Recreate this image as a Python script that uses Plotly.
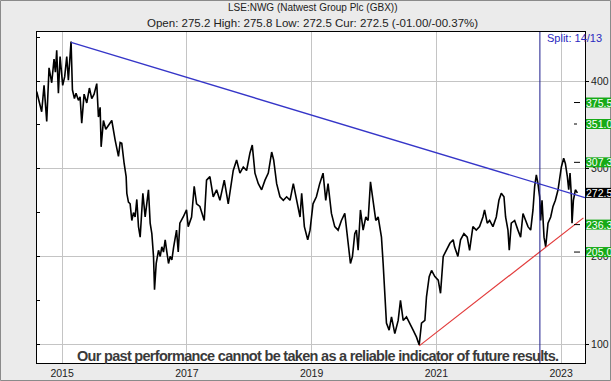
import plotly.graph_objects as go

# ---------------- data ----------------
years = [
    2014.593, 2014.636, 2014.673, 2014.711, 2014.754, 2014.791, 2014.834, 2014.871, 2014.893, 2014.914,
    2014.941, 2014.968, 2015.010, 2015.042, 2015.075, 2015.101, 2015.128, 2015.144, 2015.166, 2015.198,
    2015.224, 2015.262, 2015.289, 2015.315, 2015.353, 2015.396, 2015.438, 2015.476, 2015.513, 2015.556,
    2015.583, 2015.610, 2015.626, 2015.663, 2015.701, 2015.743, 2015.797, 2015.850, 2015.904, 2015.931,
    2015.957, 2015.995, 2016.027, 2016.038, 2016.064, 2016.091, 2016.118, 2016.145, 2016.171, 2016.198,
    2016.225, 2016.252, 2016.295, 2016.332, 2016.359, 2016.385, 2016.412, 2016.439, 2016.466, 2016.482,
    2016.509, 2016.546, 2016.573, 2016.599, 2016.626, 2016.653, 2016.680, 2016.706, 2016.733, 2016.760,
    2016.787, 2016.814, 2016.835, 2016.862, 2016.888, 2016.942, 2016.995, 2017.022, 2017.076, 2017.118,
    2017.156, 2017.209, 2017.279, 2017.316, 2017.370, 2017.423, 2017.477, 2017.530, 2017.600, 2017.664,
    2017.744, 2017.798, 2017.851, 2017.905, 2017.958, 2018.012, 2018.049, 2018.092, 2018.146, 2018.199,
    2018.253, 2018.306, 2018.360, 2018.392, 2018.440, 2018.493, 2018.547, 2018.600, 2018.654, 2018.707,
    2018.761, 2018.815, 2018.841, 2018.884, 2018.938, 2018.975, 2019.023, 2019.077, 2019.130, 2019.184,
    2019.227, 2019.264, 2019.318, 2019.371, 2019.425, 2019.478, 2019.532, 2019.558, 2019.585, 2019.623,
    2019.655, 2019.692, 2019.719, 2019.746, 2019.783, 2019.826, 2019.869, 2019.906, 2019.944, 2019.986,
    2020.029, 2020.067, 2020.120, 2020.147, 2020.174, 2020.200, 2020.243, 2020.281, 2020.334, 2020.388,
    2020.425, 2020.468, 2020.521, 2020.575, 2020.628, 2020.682, 2020.725, 2020.762, 2020.816, 2020.842,
    2020.885, 2020.923, 2020.976, 2021.030, 2021.067, 2021.110, 2021.163, 2021.217, 2021.270, 2021.292,
    2021.345, 2021.388, 2021.442, 2021.495, 2021.533, 2021.586, 2021.640, 2021.693, 2021.747, 2021.773,
    2021.816, 2021.854, 2021.907, 2021.961, 2022.003, 2022.041, 2022.084, 2022.110, 2022.148, 2022.169,
    2022.201, 2022.255, 2022.308, 2022.351, 2022.389, 2022.426, 2022.469, 2022.512, 2022.549, 2022.576,
    2022.603, 2022.629, 2022.656, 2022.672, 2022.694, 2022.726, 2022.753, 2022.790, 2022.833, 2022.870,
    2022.908, 2022.951, 2022.977, 2023.004, 2023.041, 2023.068, 2023.100, 2023.122, 2023.143, 2023.165,
    2023.175, 2023.197, 2023.229, 2023.261,
]
prices = [
    388, 375, 365, 395, 354, 415, 398, 425, 410, 435,
    386, 428, 395, 405, 428, 401, 432, 445, 390, 380,
    386, 378, 382, 352, 385, 375, 392, 380, 385, 397,
    359, 370, 325, 355, 345, 350, 355, 333, 314, 330,
    329, 306, 291, 272, 262, 260, 241, 250, 245, 265,
    234, 222, 272, 245, 262, 276, 238, 226, 200, 162,
    192, 207, 200, 211, 205, 219, 205, 192, 200, 196,
    210, 222, 230, 205, 238, 245, 253, 234, 245, 280,
    260, 257, 241, 287, 291, 268, 276, 264, 287, 260,
    298, 310, 295, 302, 298, 318, 327, 295, 283, 276,
    287, 295, 319, 310, 283, 268, 264, 268, 264, 283,
    264, 245, 272, 234, 219, 230, 260, 268, 283, 295,
    264, 283, 249, 234, 230, 241, 249, 234, 215, 192,
    200, 226, 230, 207, 253, 230, 245, 241, 285, 260,
    241, 245, 222, 192, 154, 124, 116, 131, 112, 127,
    150, 127, 131, 124, 116, 108, 99, 124, 127, 154,
    177, 184, 177, 173, 158, 200, 207, 215, 219, 211,
    200, 219, 226, 222, 207, 234, 230, 234, 245, 253,
    238, 241, 234, 245, 264, 272, 268, 245, 230, 207,
    238, 241, 230, 222, 249, 241, 234, 230, 253, 280,
    293, 283, 268, 241, 264, 222, 211, 238, 245, 257,
    264, 276, 291, 302, 312, 306, 291, 276, 295, 268,
    238, 264, 276, 272.5,
]

x_ticks = [2015, 2017, 2019, 2021, 2023]
x_tick_labels = ["2015", "2017", "2019", "2021", "2023"]
y_ticks = [100, 200, 300, 400]
y_minor_ticks = [100, 150, 200, 250, 300, 350, 400, 450]

# trend lines (endpoints) and split marker
blue_trend_x = [2015.144, 2023.383]
blue_trend_y = [444, 267]
red_trend_x = [2020.725, 2023.358]
red_trend_y = [98, 244]
split_year = 2022.66
split_text = "Split: 14/13"

# price targets shown on the right
target_values = [375.5, 351.0, 307.3, 236.3, 205.0]
target_labels = ["375.5", "351.0", "307.3", "236.3", "205.0"]
current_value = 272.5
current_label = "272.5"

title_text = "LSE:NWG (Natwest Group Plc (GBX))"
subtitle_text = "Open: 275.2 High: 275.8 Low: 272.5 Cur: 272.5 (-01.00/-00.37%)"
footer_text = "Our past performance cannot be taken as a reliable indicator of future results."

# ---------------- layout geometry ----------------
W, H = 611, 381
ML, MR, MT, MB = 37, 26, 32, 18
PW = W - ML - MR
PH = H - MT - MB
XR = [2014.598, 2023.383]
YR = [78.5, 455.9]


def px_to_paper_x(px):
    return (px - ML) / PW


def px_to_paper_y(py):
    return (H - MB - py) / PH


FONT = "Liberation Sans, Arial, sans-serif"

fig = go.Figure()

fig.add_trace(go.Scatter(
    x=years, y=prices, mode="lines",
    line=dict(color="black", width=1.6),
    hoverinfo="skip", showlegend=False,
))
fig.add_trace(go.Scatter(
    x=blue_trend_x, y=blue_trend_y, mode="lines",
    line=dict(color="#3636c8", width=1.3), showlegend=False, hoverinfo="skip",
))
fig.add_trace(go.Scatter(
    x=red_trend_x, y=red_trend_y, mode="lines",
    line=dict(color="#e23a3a", width=1.2), showlegend=False, hoverinfo="skip",
))
# invisible trace to anchor the left tick axis
fig.add_trace(go.Scatter(
    x=[years[0]], y=[prices[0]], yaxis="y2", mode="markers",
    marker=dict(opacity=0), showlegend=False, hoverinfo="skip",
))

shapes = []
# split vertical line
shapes.append(dict(type="line", xref="x", yref="paper", x0=split_year, x1=split_year,
                   y0=0, y1=1, line=dict(color="#1c1c8c", width=1)))
# target dashes and labels
annotations = []
for v, lab in zip(target_values, target_labels):
    x1 = 577 if lab == "351.0" else 580
    shapes.append(dict(type="line", xref="paper", yref="y",
                       x0=px_to_paper_x(574), x1=px_to_paper_x(x1), y0=v, y1=v,
                       line=dict(color="black", width=1)))
    shapes.append(dict(type="rect", xref="paper", yref="y",
                       x0=px_to_paper_x(586), x1=px_to_paper_x(612),
                       y0=v - 5.7, y1=v + 5.7, fillcolor="#17aa17",
                       line=dict(width=0), layer="above"))
    annotations.append(dict(xref="paper", yref="y", x=px_to_paper_x(586), y=v,
                            text=lab, showarrow=False, xanchor="left", yanchor="middle",
                            borderpad=0, borderwidth=0,
                            font=dict(family=FONT, size=10.5, color="white")))
shapes.append(dict(type="rect", xref="paper", yref="y",
                   x0=px_to_paper_x(586), x1=px_to_paper_x(612),
                   y0=current_value - 5.7, y1=current_value + 5.7, fillcolor="black",
                   line=dict(width=0), layer="above"))
annotations.append(dict(xref="paper", yref="y", x=px_to_paper_x(586), y=current_value,
                        text=current_label, showarrow=False, xanchor="left", yanchor="middle",
                        borderpad=0, borderwidth=0,
                        font=dict(family=FONT, size=10.5, color="white")))
# outer border
shapes.append(dict(type="rect", xref="paper", yref="paper",
                   x0=px_to_paper_x(0.5), x1=px_to_paper_x(610.5),
                   y0=px_to_paper_y(380.5), y1=px_to_paper_y(0.5),
                   line=dict(color="#8a8a8a", width=1), layer="below"))

annotations += [
    dict(xref="paper", yref="paper", x=px_to_paper_x(312), y=px_to_paper_y(8),
         text=title_text, showarrow=False, xanchor="center", yanchor="middle",
         font=dict(family=FONT, size=10, color="#222222")),
    dict(xref="paper", yref="paper", x=px_to_paper_x(312), y=px_to_paper_y(23),
         text=subtitle_text, showarrow=False, xanchor="center", yanchor="middle",
         font=dict(family=FONT, size=11.5, color="#222222")),
    dict(xref="paper", yref="paper", x=px_to_paper_x(545), y=px_to_paper_y(38),
         text=split_text, showarrow=False, xanchor="left", yanchor="middle",
         font=dict(family=FONT, size=11, color="#2a2ac0")),
    dict(xref="paper", yref="paper", x=px_to_paper_x(318), y=px_to_paper_y(356),
         text="<b><span style='letter-spacing:-0.7px'>" + footer_text + "</span></b>",
         showarrow=False, xanchor="center", yanchor="middle",
         font=dict(family=FONT, size=14.5, color="#3a3a3a")),
]

fig.update_layout(
    width=W, height=H,
    margin=dict(l=ML, r=MR, t=MT, b=MB, pad=0, autoexpand=False),
    paper_bgcolor="#ebebeb", plot_bgcolor="white",
    showlegend=False,
    xaxis=dict(
        range=XR, tickmode="array", tickvals=x_ticks, ticktext=x_tick_labels,
        showgrid=True, gridcolor="#c4c4c4", gridwidth=1, zeroline=False,
        showline=True, linecolor="black", linewidth=1, mirror=True, automargin=False,
        ticks="", tickfont=dict(family=FONT, size=10.5, color="#222222"),
    ),
    yaxis=dict(
        range=YR, side="right", tickmode="array", tickvals=y_ticks,
        showgrid=True, gridcolor="#c4c4c4", gridwidth=1, zeroline=False,
        showline=True, linecolor="black", linewidth=1, mirror=True, automargin=False,
        ticks="outside", ticklen=3, tickcolor="black",
        tickfont=dict(family=FONT, size=10.5, color="#222222"),
    ),
    yaxis2=dict(
        range=YR, overlaying="y", side="left", tickmode="array", tickvals=y_minor_ticks,
        ticks="inside", ticklen=3, tickcolor="black", showticklabels=False,
        showgrid=False, zeroline=False, showline=False, automargin=False,
    ),
    shapes=shapes,
    annotations=annotations,
)

fig.write_html("out.html")
